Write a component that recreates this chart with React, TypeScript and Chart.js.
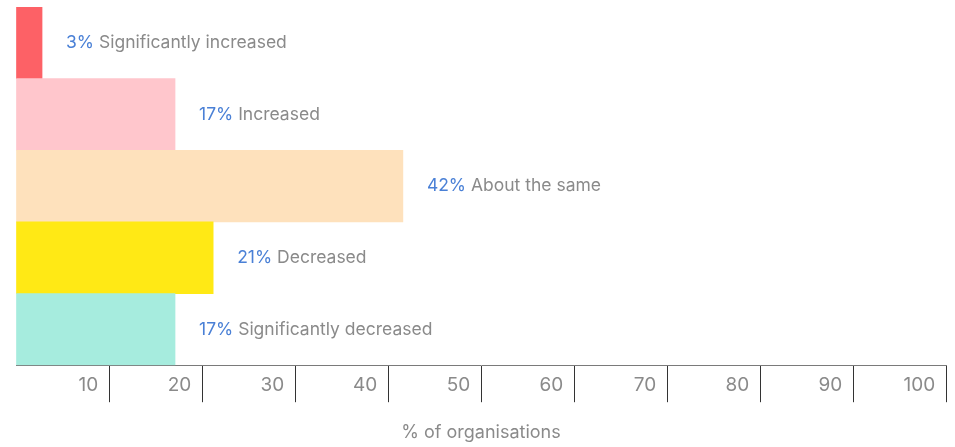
import React, { useEffect, useRef } from "react";
import { Chart, registerables } from "chart.js";

Chart.register(...registerables);

const categories = [
  "Significantly increased",
  "Increased",
  "About the same",
  "Decreased",
  "Significantly decreased",
];
const values = [2.8, 17.1, 41.6, 21.2, 17.1];
const percentLabels = ["3%", "17%", "42%", "21%", "17%"];
const barColors = ["#fd6166", "#ffc6cc", "#fee1bc", "#ffe915", "#a6ecde"];
const axisTitle = "% of organisations";

const FONT = "Inter, 'Noto Sans', sans-serif";

const barLabelPlugin = {
  id: "barLabels",
  afterDatasetsDraw(chart: any) {
    const { ctx } = chart;
    const meta = chart.getDatasetMeta(0);
    ctx.save();
    ctx.font = `17.5px ${FONT}`;
    ctx.textBaseline = "middle";
    ctx.textAlign = "left";
    meta.data.forEach((bar: any, i: number) => {
      let x = bar.x + 24;
      const y = bar.y;
      const pct = percentLabels[i] + " ";
      ctx.fillStyle = "#4a80d6";
      ctx.fillText(pct, x, y);
      x += ctx.measureText(pct).width;
      ctx.fillStyle = "#8a8a8a";
      ctx.fillText(categories[i], x, y);
    });
    ctx.restore();
  },
};

export default function App() {
  const ref = useRef<HTMLCanvasElement>(null);
  useEffect(() => {
    if (!ref.current) return;
    const chart = new Chart(ref.current, {
      type: "bar",
      data: {
        labels: categories,
        datasets: [
          {
            data: values,
            backgroundColor: barColors,
            borderWidth: 0,
            categoryPercentage: 1,
            barPercentage: 1,
          },
        ],
      },
      plugins: [barLabelPlugin],
      options: {
        indexAxis: "y",
        animation: false,
        responsive: false,
        layout: { padding: { left: 16, right: 9, top: 7, bottom: 0 } },
        plugins: { legend: { display: false }, tooltip: { enabled: false } },
        scales: {
          y: { display: false },
          x: {
            min: 0,
            max: 100,
            ticks: {
              stepSize: 10,
              align: "end",
              padding: -28,
              color: "#8a8a8a",
              font: { family: FONT, size: 19 },
              maxRotation: 0,
              autoSkip: false,
              callback: (v: any) => (v === 0 ? "" : `${v}  `),
            },
            grid: {
              drawOnChartArea: false,
              drawTicks: true,
              tickLength: 37,
              lineWidth: 1,
              color: (c: any) => (c.tick && c.tick.value === 0 ? "rgba(0,0,0,0)" : "#333333"),
            },
            border: { color: "#7a7a7a", width: 1 },
            title: {
              display: true,
              text: axisTitle,
              color: "#8a8a8a",
              font: { family: FONT, size: 18 },
              padding: { top: 53.2, bottom: 3.2 },
            },
          },
        },
      },
    } as any);
    return () => chart.destroy();
  }, []);
  return (
    <div style={{ position: "absolute", left: 0, top: 0, width: 955, height: 447 }}>
      <canvas ref={ref} width={955} height={447} style={{ display: "block" }} />
    </div>
  );
}
